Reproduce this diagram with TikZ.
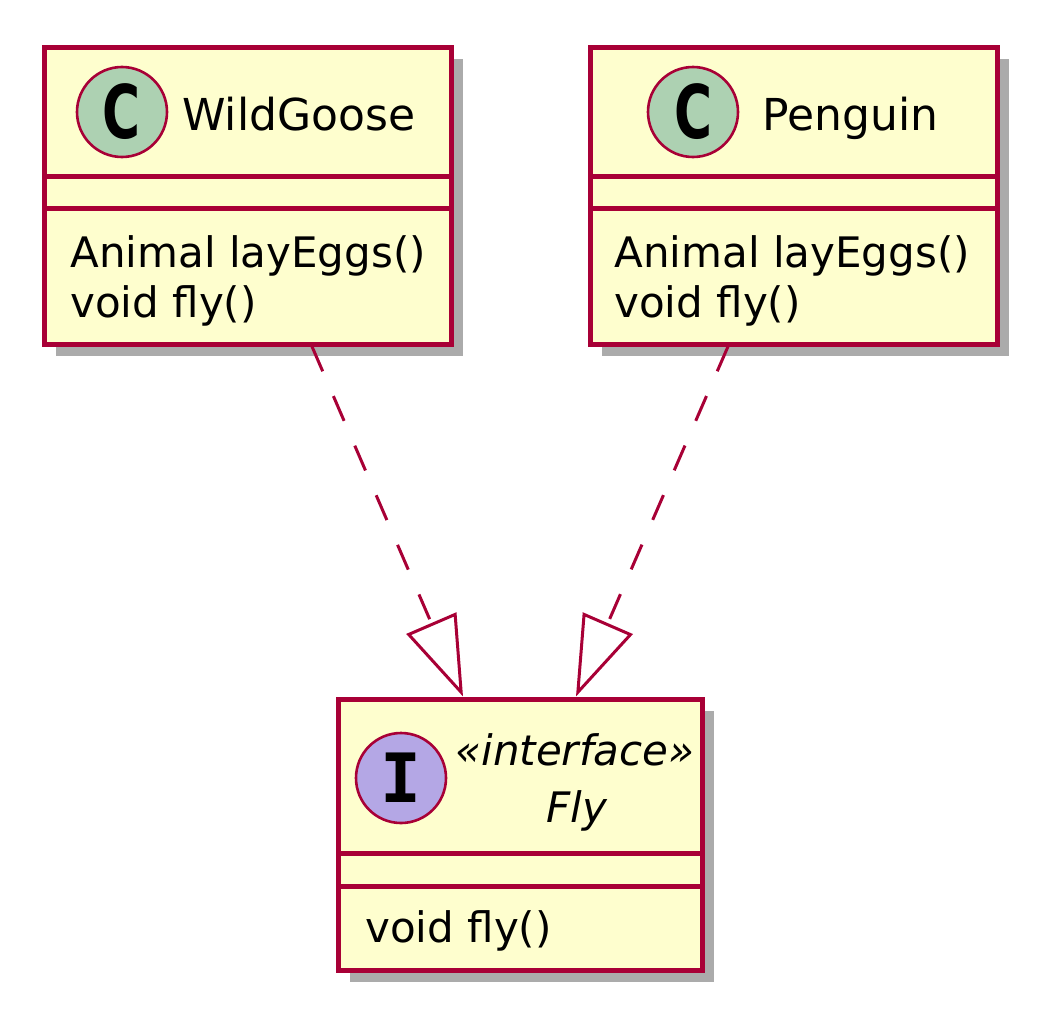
\documentclass[tikz,border=0pt]{standalone}
\usepackage{fontspec}
\setmainfont{DejaVu Sans}
\newfontfamily\glyphmono{DejaVu Sans Mono}
\usetikzlibrary{arrows.meta,fit,shadows}

\definecolor{umlred}{HTML}{A80036}
\definecolor{umlyellow}{HTML}{FEFECE}
\definecolor{classgreen}{HTML}{ADD1B2}
\definecolor{ifacepurple}{HTML}{B4A7E5}

\tikzset{
  classbox/.style={draw=umlred, fill=umlyellow, line width=2.5pt, inner sep=0pt,
    drop shadow={shadow xshift=6pt, shadow yshift=-6pt, fill=black!33, opacity=1}},
  sepline/.style={draw=umlred, line width=2.5pt},
  badge/.style={circle, draw=umlred, line width=1.3pt, minimum size=45pt, inner sep=0pt},
  title/.style={anchor=base west, inner sep=0pt, font=\fontsize{22}{26}\selectfont},
  member/.style={anchor=base west, inner sep=0pt, font=\fontsize{21}{25}\selectfont},
  realize/.style={draw=umlred, line width=1.5pt, dash pattern=on 13.5pt off 13.5pt,
    -{Triangle[open, length=40pt, width=27pt]}}
}

\begin{document}
\begin{tikzpicture}[x=0.5pt,y=-0.5pt]
  \useasboundingbox (0,0) rectangle (1038,1012);
  % boxes
  \node[classbox, fit={(44,47) (451,344)}] (goose) {};
  \node[classbox, fit={(590,47) (997,344)}] (penguin) {};
  \node[classbox, fit={(338,699) (702,970)}] (fly) {};
  \draw[sepline] (44,176) -- (451,176);
  \draw[sepline] (44,208) -- (451,208);
  \draw[sepline] (590,176) -- (997,176);
  \draw[sepline] (590,208) -- (997,208);
  \draw[sepline] (338,853) -- (702,853);
  \draw[sepline] (338,886) -- (702,886);
  % headers
  \node[badge, fill=classgreen] (gooseC) at (122,112) {\fontsize{37}{37}\selectfont\bfseries\scalebox{0.7}[1]{C}};
  \node[title] (gooseName) at (182,130) {WildGoose};
  \node[badge, fill=classgreen] (penguinC) at (693,112) {\fontsize{37}{37}\selectfont\bfseries\scalebox{0.7}[1]{C}};
  \node[title] (penguinName) at (762,130) {Penguin};
  \node[badge, fill=ifacepurple] (flyI) at (401,778) {\glyphmono\fontsize{34}{34}\selectfont\bfseries I};
  \node[anchor=base, inner sep=0pt, font=\fontsize{21}{25}\selectfont\itshape] (flyStereo) at (575,765) {«interface»};
  \node[anchor=base, inner sep=0pt, font=\fontsize{21}{25}\selectfont\itshape] (flyName) at (577,822) {Fly};
  % members
  \node[member] (gooseM1) at (70,267) {Animal layEggs()};
  \node[member] (gooseM2) at (70,317) {void fly()};
  \node[member] (penguinM1) at (614,267) {Animal layEggs()};
  \node[member] (penguinM2) at (614,317) {void fly()};
  \node[member] (flyM1) at (365,942) {void fly()};
  % realizations
  \draw[realize] ([shift={(64.5,0)}]goose.south) -- ([shift={(-57,0)}]fly.north);
  \draw[realize] ([shift={(-65.5,0)}]penguin.south) -- ([shift={(56,0)}]fly.north);
\end{tikzpicture}
\end{document}
